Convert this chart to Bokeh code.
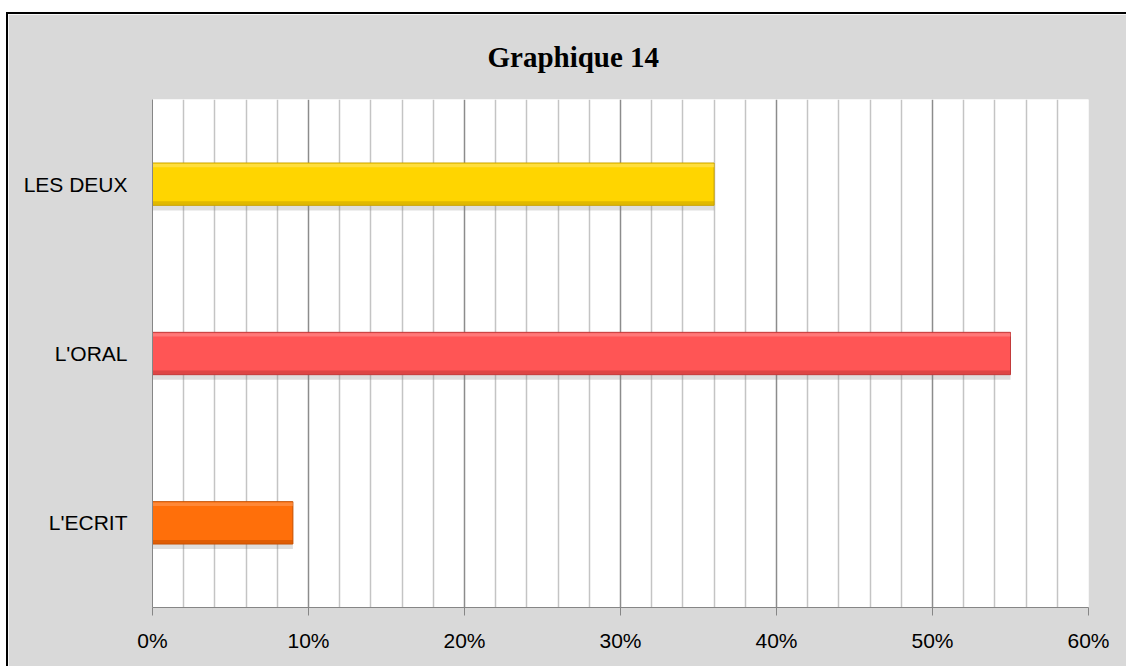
from bokeh.plotting import figure
from bokeh.models import FactorRange, Range1d, FixedTicker, NumeralTickFormatter, ColumnDataSource
from bokeh.transform import dodge
from bokeh.embed import file_html
from bokeh.resources import INLINE

# ---- data ----
categories = ["L'ECRIT", "L'ORAL", "LES DEUX"]
values = [0.09, 0.55, 0.36]
bar_colors = ["#ff6f0a", "#ff5555", "#ffd500"]
edge_colors = ["#c44f00", "#c23a3a", "#c9a200"]
light_colors = ["#ff9a55", "#ff9090", "#ffe566"]
x_ticks = [0.0, 0.1, 0.2, 0.3, 0.4, 0.5, 0.6]
x_minor_ticks = [0.02, 0.04, 0.06, 0.08, 0.12, 0.14, 0.16, 0.18, 0.22, 0.24, 0.26, 0.28,
                 0.32, 0.34, 0.36, 0.38, 0.42, 0.44, 0.46, 0.48, 0.52, 0.54, 0.56, 0.58]
title_text = "Graphique 14"

src = ColumnDataSource(dict(cat=categories, val=values, col=bar_colors,
                            edge=edge_colors, light=light_colors))

p = figure(y_range=FactorRange(factors=categories), x_range=Range1d(0, 0.6),
           frame_width=936, frame_height=508,
           min_border_left=144, min_border_right=38, min_border_top=85, min_border_bottom=59,
           output_backend="svg", toolbar_location=None, tools="")
p.styles = {"border-left": "2px solid black", "border-top": "2px solid black",
            "margin-left": "6px", "margin-top": "12px"}

p.background_fill_color = "white"
p.border_fill_color = "#d9d9d9"
p.outline_line_color = None

# title
p.title.text = title_text
p.title.text_font = "Liberation Serif"
p.title.text_font_style = "bold"
p.title.text_font_size = "29px"
p.title.text_color = "black"
p.title.align = "left"
p.title.offset = 335
p.title.standoff = 50
p.title.vertical_align = "top"

# shadow
p.hbar(y=dodge('cat', -0.03, range=p.y_range), right='val', left=0, height=0.25,
       source=src, fill_color="#7f7f7f", fill_alpha=0.25, line_color=None)
# main bar
p.hbar(y='cat', right='val', left=0, height=0.25, source=src,
       fill_color='col', line_color='edge', line_width=1)
# bottom darker strip
p.hbar(y=dodge('cat', -0.112, range=p.y_range), right='val', left=0, height=0.022,
       source=src, fill_color='edge', fill_alpha=0.55, line_color=None)
# top highlight strip
p.hbar(y=dodge('cat', 0.11, range=p.y_range), right='val', left=0, height=0.02,
       source=src, fill_color='light', fill_alpha=0.6, line_color=None)

# x axis
p.xaxis.ticker = FixedTicker(ticks=x_ticks, minor_ticks=x_minor_ticks)
p.xaxis.formatter = NumeralTickFormatter(format="0%")
p.xaxis.axis_line_color = "#868686"
p.xaxis.major_tick_line_color = "#868686"
p.xaxis.major_tick_out = 8
p.xaxis.major_tick_in = 0
p.xaxis.minor_tick_out = 0
p.xaxis.minor_tick_in = 0
p.xaxis.major_label_text_font = "Liberation Sans"
p.xaxis.major_label_text_font_size = "21px"
p.xaxis.major_label_text_color = "black"
p.xaxis.major_label_standoff = 13

# y axis
p.yaxis.axis_line_color = "#868686"
p.yaxis.major_tick_out = 0
p.yaxis.major_tick_in = 0
p.yaxis.minor_tick_out = 0
p.yaxis.major_label_text_font = "Liberation Sans"
p.yaxis.major_label_text_font_size = "21px"
p.yaxis.major_label_text_color = "black"
p.yaxis.major_label_standoff = 25

# grid
p.ygrid.grid_line_color = None
p.xgrid.grid_line_color = "#8c8c8c"
p.xgrid.grid_line_width = 1.5
p.xgrid.minor_grid_line_color = "#c4c4c4"
p.xgrid.minor_grid_line_width = 1.5

open("out.html", "w").write(file_html(p, INLINE))
